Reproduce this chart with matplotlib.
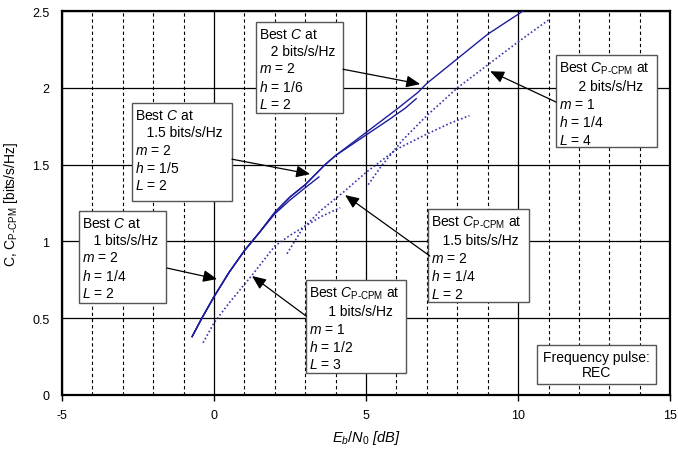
import matplotlib
matplotlib.use('Agg')
import matplotlib.pyplot as plt
import numpy as np
from matplotlib.patches import Rectangle

plt.rcParams['font.family'] = ['Liberation Sans', 'DejaVu Sans']
plt.rcParams['mathtext.fontset'] = 'custom'
plt.rcParams['mathtext.rm'] = 'Liberation Sans'
plt.rcParams['mathtext.it'] = 'Liberation Sans:italic'
plt.rcParams['mathtext.bf'] = 'Liberation Sans:bold'
plt.rcParams['mathtext.sf'] = 'Liberation Sans'
plt.rcParams['axes.unicode_minus'] = False

# Best C (solid), m=2 L=2 REC, different h
c_h14_x = [-0.72, -0.4, 0.0, 0.5, 1.0, 1.5, 2.0, 2.5, 3.0, 3.45]
c_h14_y = [0.38, 0.50, 0.64, 0.80, 0.94, 1.06, 1.18, 1.27, 1.35, 1.42]
c_h15_x = [-0.72, -0.4, 0.0, 0.5, 1.0, 1.5, 2.0, 2.5, 3.0, 3.65, 4.0, 4.6, 5.2, 5.8, 6.3, 6.65]
c_h15_y = [0.38, 0.50, 0.64, 0.80, 0.94, 1.06, 1.19, 1.29, 1.37, 1.50, 1.56, 1.64, 1.72, 1.80, 1.87, 1.93]
c_h16_x = [-0.72, -0.4, 0.0, 0.5, 1.0, 1.5, 2.0, 2.5, 3.0, 3.65, 4.0, 5.0, 6.0, 6.7, 7.0, 8.0, 9.0, 10.0, 10.3]
c_h16_y = [0.38, 0.50, 0.64, 0.80, 0.94, 1.06, 1.19, 1.29, 1.37, 1.50, 1.56, 1.71, 1.86, 1.97, 2.03, 2.19, 2.35, 2.48, 2.52]

# Best C_P-CPM (dotted)
p1_x = [-0.36, 0.0, 0.5, 1.25, 2.0, 2.5, 3.0, 3.5, 4.15]
p1_y = [0.34, 0.47, 0.60, 0.78, 0.97, 1.04, 1.10, 1.16, 1.22]
p15_x = [2.4, 2.9, 3.5, 4.25, 5.0, 6.0, 7.0, 7.76, 8.4]
p15_y = [0.92, 1.08, 1.20, 1.32, 1.45, 1.60, 1.70, 1.77, 1.82]
p2_x = [5.07, 5.5, 6.2, 7.0, 8.0, 9.0, 10.0, 11.05]
p2_y = [1.37, 1.49, 1.66, 1.82, 2.00, 2.15, 2.30, 2.45]

x_ticks = [-5, 0, 5, 10, 15]
y_ticks = [0, 0.5, 1, 1.5, 2, 2.5]
y_labels = ['0', '0.5', '1', '1.5', '2', '2.5']

PC = r'$C_{\text{P-CPM}}$'
boxes = [
    (-4.44, 1.198, -1.58, 0.599, 'Best $C$ at\n   1 bits/s/Hz\n$m$ = 2\n$h$ = 1/4\n$L$ = 2'),
    (-2.70, 1.900, 0.59, 1.263, 'Best $C$ at\n   1.5 bits/s/Hz\n$m$ = 2\n$h$ = 1/5\n$L$ = 2'),
    (1.38, 2.430, 4.24, 1.836, 'Best $C$ at\n   2 bits/s/Hz\n$m$ = 2\n$h$ = 1/6\n$L$ = 2'),
    (3.03, 0.749, 6.32, 0.143, 'Best ' + PC + ' at\n     1 bits/s/Hz\n$m$ = 1\n$h$ = 1/2\n$L$ = 3'),
    (7.04, 1.211, 10.36, 0.605, 'Best ' + PC + ' at\n   1.5 bits/s/Hz\n$m$ = 2\n$h$ = 1/4\n$L$ = 2'),
    (11.25, 2.214, 14.57, 1.615, 'Best ' + PC + ' at\n     2 bits/s/Hz\n$m$ = 1\n$h$ = 1/4\n$L$ = 4'),
]
arrows = [
    ((-1.55, 0.827), (0.10, 0.755)),
    ((0.59, 1.536), (3.16, 1.439)),
    ((4.24, 2.122), (6.78, 2.025)),
    ((3.03, 0.514), (1.25, 0.775)),
    ((7.10, 0.905), (4.31, 1.302)),
    ((11.25, 1.908), (9.08, 2.109)),
]

fig = plt.figure(figsize=(6.78, 4.52), dpi=100)
ax = fig.add_axes([0.0914, 0.124, 0.897, 0.849])

solid_c = '#1c1c9c'
dot_c = '#3535b0'
ax.plot(c_h14_x, c_h14_y, color=solid_c, lw=1.0, zorder=3)
ax.plot(c_h15_x, c_h15_y, color=solid_c, lw=1.0, zorder=3)
ax.plot(c_h16_x, c_h16_y, color=solid_c, lw=1.0, zorder=3)
for px, py in [(p1_x, p1_y), (p15_x, p15_y), (p2_x, p2_y)]:
    ax.plot(px, py, color=dot_c, lw=1.2, linestyle=(0, (1, 1.4)), zorder=3)

ax.set_xlim(-5, 15)
ax.set_ylim(0, 2.5)
ax.set_xticks(x_ticks)
ax.set_xticks(np.arange(-5, 16, 1), minor=True)
ax.set_yticks(y_ticks)
ax.set_yticklabels(y_labels)
ax.tick_params(axis='x', which='major', length=4, width=1, direction='out', pad=6, labelsize=9)
ax.tick_params(axis='x', which='minor', length=0)
ax.tick_params(axis='y', length=0, pad=9, labelsize=9)
ax.grid(which='minor', axis='x', color='black', lw=0.8, linestyle=(0, (3, 2.5)))
ax.grid(which='major', color='black', lw=0.9, linestyle='-')
ax.set_axisbelow(True)
for s in ax.spines.values():
    s.set_linewidth(1.6)

ax.set_xlabel(r'$E_b/N_0$ [dB]', fontsize=10.5, style='italic', labelpad=5)
ax.set_ylabel(r'C, C$_{\text{P-CPM}}$ [bits/s/Hz]', fontsize=10, labelpad=9)

for x0, y0, x1, y1, txt in boxes:
    ax.add_patch(Rectangle((x0, y1), x1 - x0, y0 - y1, facecolor='white',
                           edgecolor='#555555', lw=1.0, zorder=5))
    ax.text(x0 + 0.1, y0 - 0.03, txt, ha='left', va='top', fontsize=10,
            linespacing=1.3, zorder=6)

for start, tip in arrows:
    ax.annotate('', xy=tip, xytext=start, zorder=7,
                arrowprops=dict(arrowstyle='-|>,head_length=0.7,head_width=0.3',
                                color='black', lw=0.9, shrinkA=0, shrinkB=0,
                                mutation_scale=12))

ax.add_patch(Rectangle((10.63, 0.072), 14.54 - 10.63, 0.326 - 0.072, facecolor='white',
                       edgecolor='#555555', lw=1.0, zorder=5))
ax.text((10.63 + 14.54) / 2, (0.072 + 0.326) / 2, 'Frequency pulse:\nREC', ha='center',
        va='center', fontsize=10, linespacing=1.1, zorder=6)

fig.savefig('out.png', dpi=100)
